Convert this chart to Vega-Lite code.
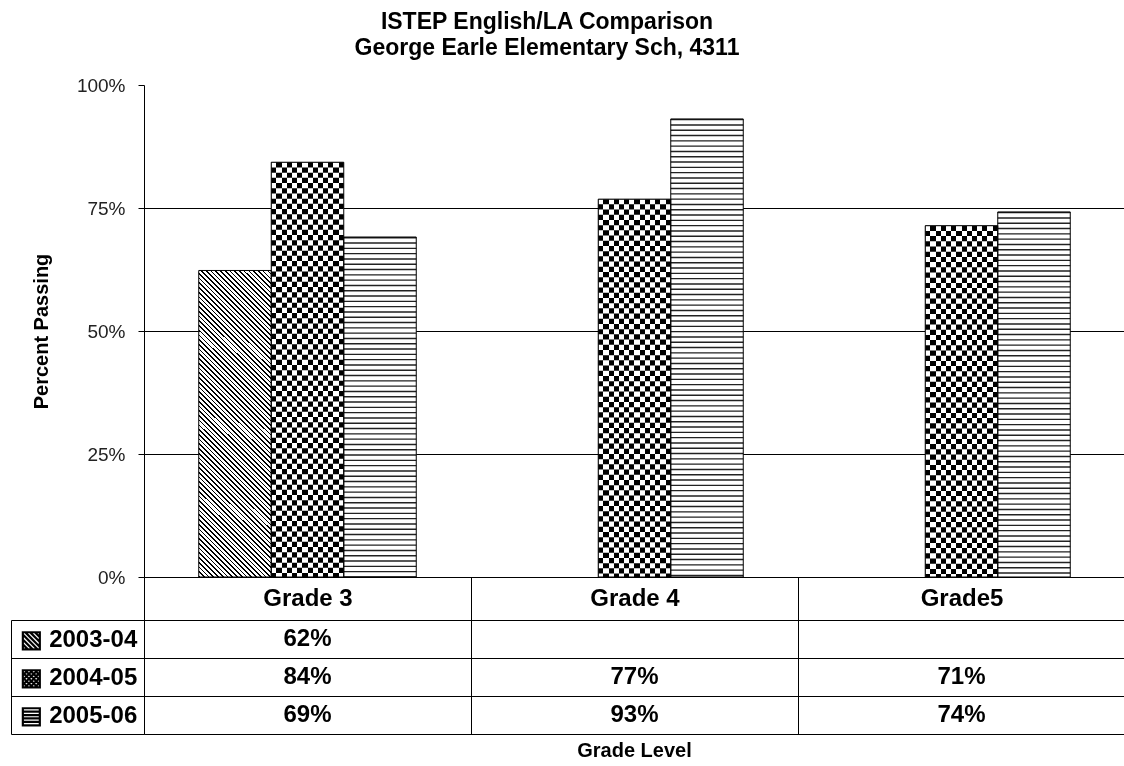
{
"$schema": "https://vega.github.io/schema/vega-lite/v6.json",
"background": "white",
"padding": {"left": 10, "top": 11, "right": 0, "bottom": 0},
"title": {"text": ["ISTEP English/LA Comparison", "George Earle Elementary Sch, 4311"], "font": "Liberation Sans", "fontSize": 23, "fontWeight": "bold", "color": "#000", "anchor": "middle", "lineHeight": 26, "offset": 16, "dx": -21},
"datasets": {"scores": [
 {"grade": "Grade 3", "series": "2003-04", "value": 0.623},
 {"grade": "Grade 3", "series": "2004-05", "value": 0.843},
 {"grade": "Grade 3", "series": "2005-06", "value": 0.691},
 {"grade": "Grade 4", "series": "2004-05", "value": 0.768},
 {"grade": "Grade 4", "series": "2005-06", "value": 0.931},
 {"grade": "Grade5", "series": "2004-05", "value": 0.714},
 {"grade": "Grade5", "series": "2005-06", "value": 0.742}
]},
"bounds": "flush",
"spacing": 43,
"vconcat": [
{
 "width": 981, "height": 492,
 "data": {"name": "scores"},
 "encoding": {
  "x": {"field": "grade", "type": "nominal", "sort": ["Grade 3", "Grade 4", "Grade5"], "scale": {"type": "band", "paddingInner": 0, "paddingOuter": 0}, "axis": {"title": null, "labels": false, "ticks": false, "grid": false, "domainColor": "#000", "domainWidth": 1}},
  "xOffset": {"field": "series", "type": "nominal", "scale": {"domain": ["2003-04", "2004-05", "2005-06"], "paddingInner": 0, "paddingOuter": 0.755}},
  "y": {"field": "value", "type": "quantitative", "scale": {"domain": [0, 1]}, "axis": {"title": "Percent Passing", "titleFont": "Liberation Sans", "titleFontSize": 20, "titleFontWeight": "bold", "titleColor": "#000", "titlePadding": 25, "values": [0, 0.25, 0.5, 0.75, 1], "format": ".0%", "labelFont": "Liberation Sans", "labelFontSize": 19, "labelColor": "#222", "labelPadding": 13, "tickSize": 6, "tickColor": "#000", "domainColor": "#000", "grid": true, "gridColor": "#000", "gridOpacity": {"condition": {"test": "datum.value >= 1", "value": 0}, "value": 1}}}
 },
 "layer": [
  {"transform": [{"filter": "datum.series === '2003-04'"}],
   "mark": {"type": "bar", "fill": {"gradient": "linear", "x1": 0, "y1": 1, "x2": 0.2763, "y2": -0.1708, "stops": [
{"offset":0,"color":"#000"},{"offset":0.0045,"color":"#000"},{"offset":0.0045,"color":"#fff"},{"offset":0.0125,"color":"#fff"},{"offset":0.0125,"color":"#000"},{"offset":0.017,"color":"#000"},{"offset":0.017,"color":"#fff"},{"offset":0.025,"color":"#fff"},
{"offset":0.025,"color":"#000"},{"offset":0.0295,"color":"#000"},{"offset":0.0295,"color":"#fff"},{"offset":0.0375,"color":"#fff"},{"offset":0.0375,"color":"#000"},{"offset":0.042,"color":"#000"},{"offset":0.042,"color":"#fff"},{"offset":0.05,"color":"#fff"},
{"offset":0.05,"color":"#000"},{"offset":0.0545,"color":"#000"},{"offset":0.0545,"color":"#fff"},{"offset":0.0625,"color":"#fff"},{"offset":0.0625,"color":"#000"},{"offset":0.067,"color":"#000"},{"offset":0.067,"color":"#fff"},{"offset":0.075,"color":"#fff"},
{"offset":0.075,"color":"#000"},{"offset":0.0795,"color":"#000"},{"offset":0.0795,"color":"#fff"},{"offset":0.0875,"color":"#fff"},{"offset":0.0875,"color":"#000"},{"offset":0.092,"color":"#000"},{"offset":0.092,"color":"#fff"},{"offset":0.1,"color":"#fff"},
{"offset":0.1,"color":"#000"},{"offset":0.1045,"color":"#000"},{"offset":0.1045,"color":"#fff"},{"offset":0.1125,"color":"#fff"},{"offset":0.1125,"color":"#000"},{"offset":0.117,"color":"#000"},{"offset":0.117,"color":"#fff"},{"offset":0.125,"color":"#fff"},
{"offset":0.125,"color":"#000"},{"offset":0.1295,"color":"#000"},{"offset":0.1295,"color":"#fff"},{"offset":0.1375,"color":"#fff"},{"offset":0.1375,"color":"#000"},{"offset":0.142,"color":"#000"},{"offset":0.142,"color":"#fff"},{"offset":0.15,"color":"#fff"},
{"offset":0.15,"color":"#000"},{"offset":0.1545,"color":"#000"},{"offset":0.1545,"color":"#fff"},{"offset":0.1625,"color":"#fff"},{"offset":0.1625,"color":"#000"},{"offset":0.167,"color":"#000"},{"offset":0.167,"color":"#fff"},{"offset":0.175,"color":"#fff"},
{"offset":0.175,"color":"#000"},{"offset":0.1795,"color":"#000"},{"offset":0.1795,"color":"#fff"},{"offset":0.1875,"color":"#fff"},{"offset":0.1875,"color":"#000"},{"offset":0.192,"color":"#000"},{"offset":0.192,"color":"#fff"},{"offset":0.2,"color":"#fff"},
{"offset":0.2,"color":"#000"},{"offset":0.2045,"color":"#000"},{"offset":0.2045,"color":"#fff"},{"offset":0.2125,"color":"#fff"},{"offset":0.2125,"color":"#000"},{"offset":0.217,"color":"#000"},{"offset":0.217,"color":"#fff"},{"offset":0.225,"color":"#fff"},
{"offset":0.225,"color":"#000"},{"offset":0.2295,"color":"#000"},{"offset":0.2295,"color":"#fff"},{"offset":0.2375,"color":"#fff"},{"offset":0.2375,"color":"#000"},{"offset":0.242,"color":"#000"},{"offset":0.242,"color":"#fff"},{"offset":0.25,"color":"#fff"},
{"offset":0.25,"color":"#000"},{"offset":0.2545,"color":"#000"},{"offset":0.2545,"color":"#fff"},{"offset":0.2625,"color":"#fff"},{"offset":0.2625,"color":"#000"},{"offset":0.267,"color":"#000"},{"offset":0.267,"color":"#fff"},{"offset":0.275,"color":"#fff"},
{"offset":0.275,"color":"#000"},{"offset":0.2795,"color":"#000"},{"offset":0.2795,"color":"#fff"},{"offset":0.2875,"color":"#fff"},{"offset":0.2875,"color":"#000"},{"offset":0.292,"color":"#000"},{"offset":0.292,"color":"#fff"},{"offset":0.3,"color":"#fff"},
{"offset":0.3,"color":"#000"},{"offset":0.3045,"color":"#000"},{"offset":0.3045,"color":"#fff"},{"offset":0.3125,"color":"#fff"},{"offset":0.3125,"color":"#000"},{"offset":0.317,"color":"#000"},{"offset":0.317,"color":"#fff"},{"offset":0.325,"color":"#fff"},
{"offset":0.325,"color":"#000"},{"offset":0.3295,"color":"#000"},{"offset":0.3295,"color":"#fff"},{"offset":0.3375,"color":"#fff"},{"offset":0.3375,"color":"#000"},{"offset":0.342,"color":"#000"},{"offset":0.342,"color":"#fff"},{"offset":0.35,"color":"#fff"},
{"offset":0.35,"color":"#000"},{"offset":0.3545,"color":"#000"},{"offset":0.3545,"color":"#fff"},{"offset":0.3625,"color":"#fff"},{"offset":0.3625,"color":"#000"},{"offset":0.367,"color":"#000"},{"offset":0.367,"color":"#fff"},{"offset":0.375,"color":"#fff"},
{"offset":0.375,"color":"#000"},{"offset":0.3795,"color":"#000"},{"offset":0.3795,"color":"#fff"},{"offset":0.3875,"color":"#fff"},{"offset":0.3875,"color":"#000"},{"offset":0.392,"color":"#000"},{"offset":0.392,"color":"#fff"},{"offset":0.4,"color":"#fff"},
{"offset":0.4,"color":"#000"},{"offset":0.4045,"color":"#000"},{"offset":0.4045,"color":"#fff"},{"offset":0.4125,"color":"#fff"},{"offset":0.4125,"color":"#000"},{"offset":0.417,"color":"#000"},{"offset":0.417,"color":"#fff"},{"offset":0.425,"color":"#fff"},
{"offset":0.425,"color":"#000"},{"offset":0.4295,"color":"#000"},{"offset":0.4295,"color":"#fff"},{"offset":0.4375,"color":"#fff"},{"offset":0.4375,"color":"#000"},{"offset":0.442,"color":"#000"},{"offset":0.442,"color":"#fff"},{"offset":0.45,"color":"#fff"},
{"offset":0.45,"color":"#000"},{"offset":0.4545,"color":"#000"},{"offset":0.4545,"color":"#fff"},{"offset":0.4625,"color":"#fff"},{"offset":0.4625,"color":"#000"},{"offset":0.467,"color":"#000"},{"offset":0.467,"color":"#fff"},{"offset":0.475,"color":"#fff"},
{"offset":0.475,"color":"#000"},{"offset":0.4795,"color":"#000"},{"offset":0.4795,"color":"#fff"},{"offset":0.4875,"color":"#fff"},{"offset":0.4875,"color":"#000"},{"offset":0.492,"color":"#000"},{"offset":0.492,"color":"#fff"},{"offset":0.5,"color":"#fff"},
{"offset":0.5,"color":"#000"},{"offset":0.5045,"color":"#000"},{"offset":0.5045,"color":"#fff"},{"offset":0.5125,"color":"#fff"},{"offset":0.5125,"color":"#000"},{"offset":0.517,"color":"#000"},{"offset":0.517,"color":"#fff"},{"offset":0.525,"color":"#fff"},
{"offset":0.525,"color":"#000"},{"offset":0.5295,"color":"#000"},{"offset":0.5295,"color":"#fff"},{"offset":0.5375,"color":"#fff"},{"offset":0.5375,"color":"#000"},{"offset":0.542,"color":"#000"},{"offset":0.542,"color":"#fff"},{"offset":0.55,"color":"#fff"},
{"offset":0.55,"color":"#000"},{"offset":0.5545,"color":"#000"},{"offset":0.5545,"color":"#fff"},{"offset":0.5625,"color":"#fff"},{"offset":0.5625,"color":"#000"},{"offset":0.567,"color":"#000"},{"offset":0.567,"color":"#fff"},{"offset":0.575,"color":"#fff"},
{"offset":0.575,"color":"#000"},{"offset":0.5795,"color":"#000"},{"offset":0.5795,"color":"#fff"},{"offset":0.5875,"color":"#fff"},{"offset":0.5875,"color":"#000"},{"offset":0.592,"color":"#000"},{"offset":0.592,"color":"#fff"},{"offset":0.6,"color":"#fff"},
{"offset":0.6,"color":"#000"},{"offset":0.6045,"color":"#000"},{"offset":0.6045,"color":"#fff"},{"offset":0.6125,"color":"#fff"},{"offset":0.6125,"color":"#000"},{"offset":0.617,"color":"#000"},{"offset":0.617,"color":"#fff"},{"offset":0.625,"color":"#fff"},
{"offset":0.625,"color":"#000"},{"offset":0.6295,"color":"#000"},{"offset":0.6295,"color":"#fff"},{"offset":0.6375,"color":"#fff"},{"offset":0.6375,"color":"#000"},{"offset":0.642,"color":"#000"},{"offset":0.642,"color":"#fff"},{"offset":0.65,"color":"#fff"},
{"offset":0.65,"color":"#000"},{"offset":0.6545,"color":"#000"},{"offset":0.6545,"color":"#fff"},{"offset":0.6625,"color":"#fff"},{"offset":0.6625,"color":"#000"},{"offset":0.667,"color":"#000"},{"offset":0.667,"color":"#fff"},{"offset":0.675,"color":"#fff"},
{"offset":0.675,"color":"#000"},{"offset":0.6795,"color":"#000"},{"offset":0.6795,"color":"#fff"},{"offset":0.6875,"color":"#fff"},{"offset":0.6875,"color":"#000"},{"offset":0.692,"color":"#000"},{"offset":0.692,"color":"#fff"},{"offset":0.7,"color":"#fff"},
{"offset":0.7,"color":"#000"},{"offset":0.7045,"color":"#000"},{"offset":0.7045,"color":"#fff"},{"offset":0.7125,"color":"#fff"},{"offset":0.7125,"color":"#000"},{"offset":0.717,"color":"#000"},{"offset":0.717,"color":"#fff"},{"offset":0.725,"color":"#fff"},
{"offset":0.725,"color":"#000"},{"offset":0.7295,"color":"#000"},{"offset":0.7295,"color":"#fff"},{"offset":0.7375,"color":"#fff"},{"offset":0.7375,"color":"#000"},{"offset":0.742,"color":"#000"},{"offset":0.742,"color":"#fff"},{"offset":0.75,"color":"#fff"},
{"offset":0.75,"color":"#000"},{"offset":0.7545,"color":"#000"},{"offset":0.7545,"color":"#fff"},{"offset":0.7625,"color":"#fff"},{"offset":0.7625,"color":"#000"},{"offset":0.767,"color":"#000"},{"offset":0.767,"color":"#fff"},{"offset":0.775,"color":"#fff"},
{"offset":0.775,"color":"#000"},{"offset":0.7795,"color":"#000"},{"offset":0.7795,"color":"#fff"},{"offset":0.7875,"color":"#fff"},{"offset":0.7875,"color":"#000"},{"offset":0.792,"color":"#000"},{"offset":0.792,"color":"#fff"},{"offset":0.8,"color":"#fff"},
{"offset":0.8,"color":"#000"},{"offset":0.8045,"color":"#000"},{"offset":0.8045,"color":"#fff"},{"offset":0.8125,"color":"#fff"},{"offset":0.8125,"color":"#000"},{"offset":0.817,"color":"#000"},{"offset":0.817,"color":"#fff"},{"offset":0.825,"color":"#fff"},
{"offset":0.825,"color":"#000"},{"offset":0.8295,"color":"#000"},{"offset":0.8295,"color":"#fff"},{"offset":0.8375,"color":"#fff"},{"offset":0.8375,"color":"#000"},{"offset":0.842,"color":"#000"},{"offset":0.842,"color":"#fff"},{"offset":0.85,"color":"#fff"},
{"offset":0.85,"color":"#000"},{"offset":0.8545,"color":"#000"},{"offset":0.8545,"color":"#fff"},{"offset":0.8625,"color":"#fff"},{"offset":0.8625,"color":"#000"},{"offset":0.867,"color":"#000"},{"offset":0.867,"color":"#fff"},{"offset":0.875,"color":"#fff"},
{"offset":0.875,"color":"#000"},{"offset":0.8795,"color":"#000"},{"offset":0.8795,"color":"#fff"},{"offset":0.8875,"color":"#fff"},{"offset":0.8875,"color":"#000"},{"offset":0.892,"color":"#000"},{"offset":0.892,"color":"#fff"},{"offset":0.9,"color":"#fff"},
{"offset":0.9,"color":"#000"},{"offset":0.9045,"color":"#000"},{"offset":0.9045,"color":"#fff"},{"offset":0.9125,"color":"#fff"},{"offset":0.9125,"color":"#000"},{"offset":0.917,"color":"#000"},{"offset":0.917,"color":"#fff"},{"offset":0.925,"color":"#fff"},
{"offset":0.925,"color":"#000"},{"offset":0.9295,"color":"#000"},{"offset":0.9295,"color":"#fff"},{"offset":0.9375,"color":"#fff"},{"offset":0.9375,"color":"#000"},{"offset":0.942,"color":"#000"},{"offset":0.942,"color":"#fff"},{"offset":0.95,"color":"#fff"},
{"offset":0.95,"color":"#000"},{"offset":0.9545,"color":"#000"},{"offset":0.9545,"color":"#fff"},{"offset":0.9625,"color":"#fff"},{"offset":0.9625,"color":"#000"},{"offset":0.967,"color":"#000"},{"offset":0.967,"color":"#fff"},{"offset":0.975,"color":"#fff"},
{"offset":0.975,"color":"#000"},{"offset":0.9795,"color":"#000"},{"offset":0.9795,"color":"#fff"},{"offset":0.9875,"color":"#fff"},{"offset":0.9875,"color":"#000"},{"offset":0.992,"color":"#000"},{"offset":0.992,"color":"#fff"},{"offset":1,"color":"#fff"}
   ]}}},
  {"transform": [{"filter": "datum.series === '2004-05'"}],
   "mark": {"type": "bar", "fill": {"gradient": "linear", "x1": 0, "y1": 0, "x2": 1, "y2": 0, "stops": [
{"offset":0,"color":"#000"},{"offset":0.071429,"color":"#000"},{"offset":0.071429,"color":"#fff"},{"offset":0.142857,"color":"#fff"},
{"offset":0.142857,"color":"#000"},{"offset":0.214286,"color":"#000"},{"offset":0.214286,"color":"#fff"},{"offset":0.285714,"color":"#fff"},
{"offset":0.285714,"color":"#000"},{"offset":0.357143,"color":"#000"},{"offset":0.357143,"color":"#fff"},{"offset":0.428571,"color":"#fff"},
{"offset":0.428571,"color":"#000"},{"offset":0.5,"color":"#000"},{"offset":0.5,"color":"#fff"},{"offset":0.571429,"color":"#fff"},
{"offset":0.571429,"color":"#000"},{"offset":0.642857,"color":"#000"},{"offset":0.642857,"color":"#fff"},{"offset":0.714286,"color":"#fff"},
{"offset":0.714286,"color":"#000"},{"offset":0.785714,"color":"#000"},{"offset":0.785714,"color":"#fff"},{"offset":0.857143,"color":"#fff"},
{"offset":0.857143,"color":"#000"},{"offset":0.928571,"color":"#000"},{"offset":0.928571,"color":"#fff"},{"offset":1,"color":"#fff"}
   ]}}},
  {"transform": [{"filter": "datum.series === '2004-05'"}],
   "mark": {"type": "rule", "stroke": "#fff", "strokeWidth": 72.5, "strokeDash": [5.2, 5.2], "strokeCap": "butt", "blend": "difference"},
   "encoding": {"y2": {"datum": 0}}},
  {"transform": [{"filter": "datum.series === '2005-06'"}],
   "mark": {"type": "bar", "fill": "#fff"}},
  {"transform": [{"filter": "datum.series === '2005-06'"}],
   "mark": {"type": "rule", "stroke": "#222", "strokeWidth": 72.5, "strokeDash": [1.4, 3.9], "strokeCap": "butt"},
   "encoding": {"y2": {"datum": 0}}},
  {"mark": {"type": "bar", "fill": "transparent", "stroke": "#000", "strokeWidth": 1}}
 ]
},
{
 "width": 981, "height": 114,
 "data": {"name": "scores"},
 "title": {"text": "Grade Level", "orient": "bottom", "anchor": "middle", "frame": "group", "font": "Liberation Sans", "fontSize": 20, "fontWeight": "bold", "color": "#000", "offset": 6},
 "layer": [
  {"mark": {"type": "text", "font": "Liberation Sans", "fontSize": 24, "fontWeight": "bold", "color": "#000", "align": "center", "baseline": "middle"},
   "encoding": {
    "x": {"field": "grade", "type": "nominal", "sort": ["Grade 3", "Grade 4", "Grade5"], "scale": {"type": "band", "paddingInner": 0, "paddingOuter": 0},
          "axis": {"orient": "top", "title": null, "tickBand": "extent", "tickSize": 43, "tickColor": "#000", "domainColor": "#000", "grid": true, "gridColor": "#000", "gridOpacity": 1, "labelFont": "Liberation Sans", "labelFontSize": 24, "labelFontWeight": "bold", "labelColor": "#000", "labelAngle": 0, "labelBaseline": "middle", "labelPadding": -21, "minExtent": 43, "maxExtent": 43}},
    "y": {"field": "series", "type": "nominal", "sort": ["2003-04", "2004-05", "2005-06"], "scale": {"type": "band", "paddingInner": 0, "paddingOuter": 0},
          "axis": {"orient": "left", "title": null, "tickBand": "extent", "tickSize": 133, "tickColor": "#000", "domainColor": "#000", "grid": true, "gridColor": "#000", "gridOpacity": 1, "labelFont": "Liberation Sans", "labelFontSize": 24, "labelFontWeight": "bold", "labelColor": "#000", "labelAlign": "left", "labelBaseline": "middle", "labelPadding": -8,
                   "labelExpr": "datum.value == null ? '' : (datum.value === '2003-04' ? '▧ ' : datum.value === '2004-05' ? '▩ ' : '▤ ') + datum.value"}},
    "text": {"field": "value", "type": "quantitative", "format": ".0%"}
   }},
  {"mark": {"type": "point", "opacity": 0},
   "encoding": {
    "y": {"field": "series", "type": "nominal", "sort": ["2003-04", "2004-05", "2005-06"], "scale": {"type": "band", "paddingInner": 0, "paddingOuter": 0},
          "axis": {"orient": "left", "offset": 133, "title": null, "labels": false, "ticks": false, "grid": false, "domainColor": "#000"}}
   }}
 ],
 "resolve": {"axis": {"y": "independent"}}
}
],
"config": {"view": {"stroke": null}, "font": "Liberation Sans"}
}
